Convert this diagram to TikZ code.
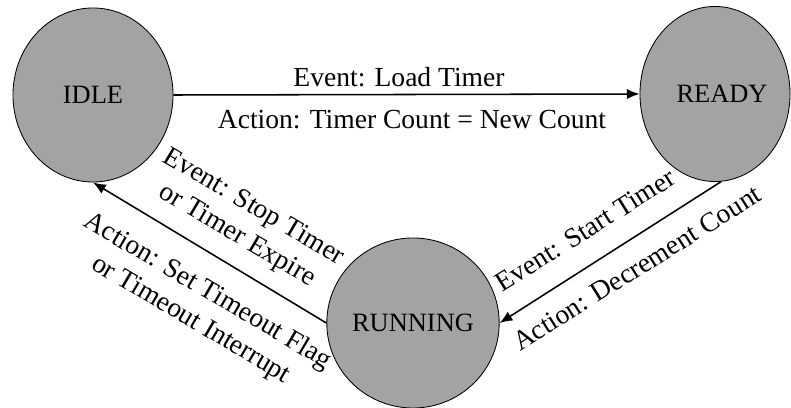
\documentclass[tikz,border=0pt]{standalone}
\usepackage{fontspec}
\setmainfont{Liberation Serif}
\usetikzlibrary{shapes.geometric,arrows.meta}
\begin{document}
\begin{tikzpicture}[
   x=0.025cm,y=0.025cm,
   state/.style={ellipse,draw,semithick,fill=black!36,inner sep=0pt,font=\fontsize{18.8}{22}\selectfont},
   to/.style={-{Latex[length=0.32cm,width=0.26cm]},line width=1.1pt},
   lbl/.style={font=\fontsize{19.6}{23.5}\selectfont,align=center,inner sep=0pt}]
\useasboundingbox (0,0) rectangle (791,408);
\node[state,minimum width=4cm,minimum height=4.35cm] (IDLE) at (93,313) {IDLE};
\node[state,minimum width=3.75cm,minimum height=4.375cm] (READY) at (715,314) {\hspace{10pt}READY};
\node[state,minimum width=4cm,minimum height=4.25cm] (RUN) at (413,85) {RUNNING};
\draw[to] (IDLE.east) -- (READY.west);
\draw[to] (READY.-86) -- (RUN.east);
\draw[to] (RUN.west) -- (IDLE.south);
\node[lbl] (evLoad) at (399,331) {Event: Load Timer};
\node[lbl] (acLoad) at (412,288) {Action: Timer Count = New Count};
\node[lbl,rotate=32] (evStart) at (585,178) {Event: Start Timer};
\node[lbl,rotate=32] (acStart) at (637,140) {Action: Decrement Count};
\node[lbl,rotate=-30.5] (evStop) at (245,186) {Event: Stop Timer\\or Timer Expire};
\node[lbl,rotate=-30.5] (acStop) at (199,102) {Action: Set Timeout Flag\\or Timeout Interrupt};
\end{tikzpicture}
\end{document}
